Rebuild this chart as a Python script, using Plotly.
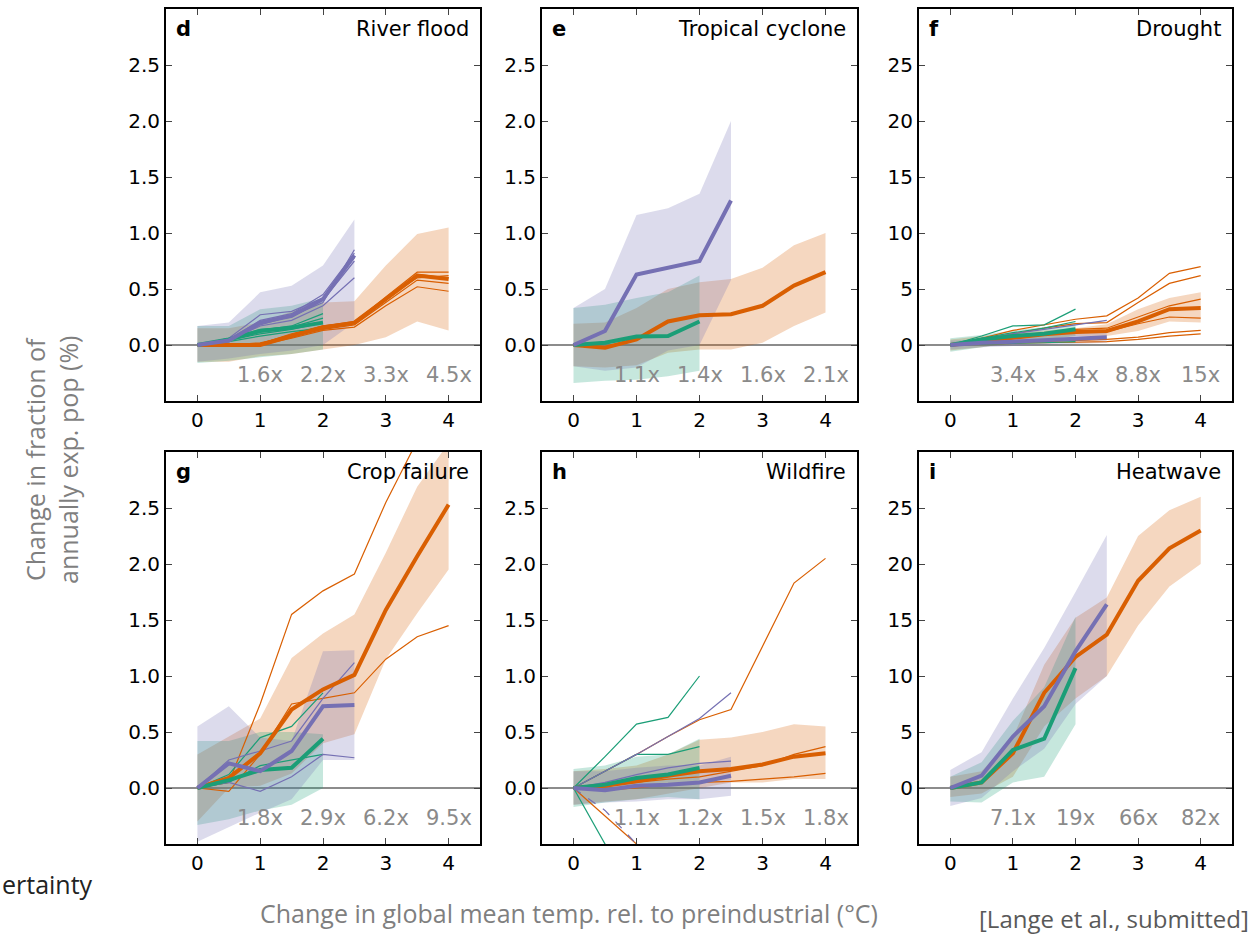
import plotly.graph_objects as go

# ---------------- data ----------------
X = [0, 0.5, 1, 1.5, 2, 2.5, 3, 3.5, 4]
X_PUR = X[:6]
X_GRN = X[:5]

panel_letters = ["d", "e", "f", "g", "h", "i"]
panel_titles = ["River flood", "Tropical cyclone", "Drought", "Crop failure", "Wildfire", "Heatwave"]
multipliers = [
    ["1.6x", "2.2x", "3.3x", "4.5x"],
    ["1.1x", "1.4x", "1.6x", "2.1x"],
    ["3.4x", "5.4x", "8.8x", "15x"],
    ["1.8x", "2.9x", "6.2x", "9.5x"],
    ["1.1x", "1.2x", "1.5x", "1.8x"],
    ["7.1x", "19x", "66x", "82x"],
]
mult_x = [1, 2, 3, 4]
x_ticks = [0, 1, 2, 3, 4]
y_ticks_small = [0, 0.5, 1.0, 1.5, 2.0, 2.5]
y_ticks_big = [0, 5, 10, 15, 20, 25]

# --- d River flood ---
d_org_mean = [0, 0, 0.0, 0.08, 0.155, 0.2, 0.41, 0.62, 0.59]
d_org_hi = [0.15, 0.15, 0.2, 0.3, 0.38, 0.39, 0.71, 0.99, 1.05]
d_org_lo = [-0.15, -0.15, -0.1, -0.08, -0.04, 0.0, 0.07, 0.21, 0.13]
d_org_members = [
    [0, 0, 0.01, 0.09, 0.17, 0.2, 0.43, 0.65, 0.65],
    [0, 0, 0.0, 0.07, 0.15, 0.19, 0.40, 0.63, 0.60],
    [0, 0, 0.02, 0.08, 0.14, 0.18, 0.38, 0.58, 0.55],
    [0, -0.01, 0.0, 0.06, 0.13, 0.16, 0.35, 0.52, 0.48],
    [0, 0, 0.01, 0.10, 0.17, 0.21, 0.42, 0.60, 0.62],
]
d_grn_mean = [0, 0.05, 0.125, 0.155, 0.2]
d_grn_hi = [0.17, 0.17, 0.32, 0.35, 0.42]
d_grn_lo = [-0.16, -0.14, -0.11, -0.08, -0.04]
d_grn_members = [
    [0, 0.05, 0.13, 0.17, 0.28],
    [0, 0.04, 0.10, 0.14, 0.20],
    [0, 0.06, 0.14, 0.16, 0.24],
    [0, 0.03, 0.08, 0.12, 0.15],
]
d_pur_mean = [0, 0.04, 0.2, 0.26, 0.41, 0.8]
d_pur_hi = [0.17, 0.2, 0.47, 0.53, 0.71, 1.12]
d_pur_lo = [-0.15, -0.12, -0.08, -0.05, 0.0, 0.2]
d_pur_members = [
    [0, 0.03, 0.18, 0.26, 0.38, 0.85],
    [0, 0.05, 0.22, 0.28, 0.45, 0.82],
    [0, 0.03, 0.20, 0.25, 0.40, 0.75],
    [0, 0.04, 0.17, 0.22, 0.35, 0.60],
    [0, 0.06, 0.27, 0.30, 0.42, 0.78],
]

# --- e Tropical cyclone ---
e_org_mean = [0, -0.025, 0.05, 0.21, 0.265, 0.275, 0.35, 0.53, 0.65]
e_org_hi = [0.19, 0.2, 0.33, 0.5, 0.56, 0.59, 0.69, 0.89, 1.0]
e_org_lo = [-0.19, -0.2, -0.18, -0.07, -0.04, -0.04, 0.02, 0.17, 0.29]
e_org_members = []
e_grn_mean = [0, 0.02, 0.075, 0.08, 0.21]
e_grn_hi = [0.33, 0.36, 0.42, 0.47, 0.62]
e_grn_lo = [-0.34, -0.32, -0.31, -0.28, -0.23]
e_grn_members = []
e_pur_mean = [0, 0.125, 0.63, 0.69, 0.75, 1.29]
e_pur_hi = [0.33, 0.5, 1.16, 1.22, 1.35, 2.0]
e_pur_lo = [-0.19, -0.23, -0.2, -0.05, 0.0, 0.58]
e_pur_members = []

# --- f Drought ---
f_org_mean = [0, 0.36, 0.65, 0.95, 1.16, 1.25, 2.1, 3.2, 3.3]
f_org_hi = [0.5, 0.8, 1.1, 1.3, 1.5, 1.85, 3.2, 4.2, 4.7]
f_org_lo = [-0.5, -0.2, 0.2, 0.5, 0.8, 0.8, 1.25, 2.1, 2.0]
f_org_members = [
    [0, 0.6, 1.3, 1.8, 2.3, 2.6, 4.2, 6.4, 7.0],
    [0, 0.5, 1.0, 1.5, 1.9, 2.0, 3.8, 5.5, 6.2],
    [0, 0.4, 0.8, 1.1, 1.4, 1.5, 2.5, 3.5, 4.1],
    [0, 0.3, 0.6, 0.9, 1.1, 1.2, 1.9, 2.5, 2.4],
    [0, 0.1, 0.2, 0.3, 0.4, 0.5, 0.7, 1.1, 1.3],
    [0, 0.1, 0.15, 0.2, 0.25, 0.3, 0.5, 0.8, 1.0],
]
f_grn_mean = [0, 0.5, 0.8, 1.0, 1.4]
f_grn_hi = [0.6, 0.9, 1.3, 1.6, 2.0]
f_grn_lo = [-0.6, -0.2, 0.2, 0.4, 0.8]
f_grn_members = [
    [0, 0.8, 1.7, 1.8, 3.2],
    [0, 0.6, 1.1, 1.5, 2.1],
    [0, 0.1, 0.15, 0.2, 0.3],
]
f_pur_mean = [0, 0.2, 0.3, 0.4, 0.55, 0.7]
f_pur_hi = [0.4, 0.5, 0.7, 0.9, 1.1, 1.3]
f_pur_lo = [-0.4, -0.2, -0.1, 0.0, 0.1, 0.2]
f_pur_members = [
    [0, 0.5, 1.0, 1.4, 1.8, 2.2],
]

# --- g Crop failure ---
g_org_mean = [0, 0.09, 0.31, 0.70, 0.88, 1.01, 1.59, 2.07, 2.53]
g_org_hi = [0.3, 0.46, 0.62, 1.16, 1.38, 1.55, 2.1, 2.69, 3.08]
g_org_lo = [-0.3, 0.0, 0.02, 0.13, 0.4, 0.48, 1.15, 1.56, 1.95]
g_org_members = [
    [0, 0.05, 0.75, 1.55, 1.76, 1.91, 2.55, 3.1, 3.5],
    [0, -0.03, 0.3, 0.75, 0.80, 0.85, 1.15, 1.35, 1.45],
]
g_grn_mean = [0, 0.07, 0.16, 0.18, 0.44]
g_grn_hi = [0.42, 0.42, 0.5, 0.5, 0.48]
g_grn_lo = [-0.33, -0.28, -0.2, -0.15, 0.0]
g_grn_members = [
    [0, 0.12, 0.45, 0.55, 0.85],
    [0, 0.05, 0.2, 0.25, 0.3],
]
g_pur_mean = [0, 0.22, 0.15, 0.33, 0.73, 0.74]
g_pur_hi = [0.55, 0.73, 0.45, 0.42, 1.22, 1.23]
g_pur_lo = [-0.48, -0.35, -0.22, -0.1, 0.25, 0.25]
g_pur_members = [
    [0, 0.25, 0.33, 0.42, 0.80, 1.12],
    [0, 0.05, -0.03, 0.1, 0.30, 0.27],
]

# --- h Wildfire ---
h_org_mean = [0, 0.02, 0.06, 0.11, 0.15, 0.17, 0.21, 0.28, 0.31]
h_org_hi = [0.15, 0.17, 0.2, 0.3, 0.43, 0.45, 0.5, 0.57, 0.55]
h_org_lo = [-0.15, -0.12, -0.1, -0.05, 0.0, 0.05, 0.05, 0.08, 0.08]
h_org_members = [
    [0, 0.15, 0.3, 0.46, 0.61, 0.7, 1.27, 1.83, 2.05],
    [0, -0.25, -0.5, -0.75, -1.0, -1.25, -1.5, -1.75, -2.0],
    [0, 0.02, 0.05, 0.08, 0.1, 0.15, 0.2, 0.3, 0.37],
    [0, -0.02, 0.0, 0.03, 0.05, 0.06, 0.08, 0.1, 0.13],
]
h_grn_mean = [0, 0.03, 0.09, 0.12, 0.18]
h_grn_hi = [0.17, 0.2, 0.28, 0.3, 0.44]
h_grn_lo = [-0.17, -0.13, -0.1, -0.08, -0.1]
h_grn_members = [
    [0, 0.28, 0.57, 0.63, 1.0],
    [0, 0.15, 0.3, 0.3, 0.37],
    [0, -0.5, -1.0, -1.5, -2.0],
]
h_pur_mean = [0, -0.02, 0.02, 0.03, 0.05, 0.11]
h_pur_hi = [0.15, 0.15, 0.18, 0.2, 0.2, 0.28]
h_pur_lo = [-0.15, -0.13, -0.12, -0.1, -0.1, -0.07]
h_pur_members = [
    [0, 0.15, 0.3, 0.46, 0.62, 0.85],
    [0, 0.05, 0.12, 0.18, 0.22, 0.24],
]
h_pur_dashed = [0, -0.2, -0.5, -0.8, -1.1, -1.4]

# --- i Heatwave ---
i_org_mean = [0, 0.5, 3.1, 8.5, 11.7, 13.7, 18.5, 21.4, 23.0]
i_org_hi = [1.0, 1.5, 4.5, 11.0, 15.2, 17.0, 22.5, 24.8, 26.0]
i_org_lo = [-0.8, -0.5, 1.0, 5.5, 8.0, 10.0, 14.5, 18.0, 20.0]
i_org_members = []
i_grn_mean = [0, 0.5, 3.4, 4.4, 10.7]
i_grn_hi = [1.0, 2.3, 6.0, 9.0, 15.3]
i_grn_lo = [-1.2, -1.3, 0.5, 1.0, 5.7]
i_grn_members = []
i_pur_mean = [0, 1.1, 4.6, 7.3, 12.2, 16.4]
i_pur_hi = [1.6, 3.2, 8.0, 12.5, 17.5, 22.6]
i_pur_lo = [-1.6, -0.9, 1.5, 3.5, 7.5, 10.0]
i_pur_members = []

# ---------------- styling ----------------
ORANGE = "#d95f02"
GREEN = "#1b9e77"
PURPLE = "#7570b3"
ORANGE_FILL = "rgba(217,95,2,0.25)"
GREEN_FILL = "rgba(27,158,119,0.25)"
PURPLE_FILL = "rgba(117,112,179,0.25)"

W, H = 1251, 934
col_dom = [(166 / W, 480 / W), (542 / W, 857 / W), (919 / W, 1232 / W)]
row_dom = [(1 - 401 / H, 1 - 9 / H), (1 - 844 / H, 1 - 452 / H)]

panels = [
    (d_org_mean, d_org_lo, d_org_hi, d_org_members, d_grn_mean, d_grn_lo, d_grn_hi, d_grn_members, d_pur_mean, d_pur_lo, d_pur_hi, d_pur_members),
    (e_org_mean, e_org_lo, e_org_hi, e_org_members, e_grn_mean, e_grn_lo, e_grn_hi, e_grn_members, e_pur_mean, e_pur_lo, e_pur_hi, e_pur_members),
    (f_org_mean, f_org_lo, f_org_hi, f_org_members, f_grn_mean, f_grn_lo, f_grn_hi, f_grn_members, f_pur_mean, f_pur_lo, f_pur_hi, f_pur_members),
    (g_org_mean, g_org_lo, g_org_hi, g_org_members, g_grn_mean, g_grn_lo, g_grn_hi, g_grn_members, g_pur_mean, g_pur_lo, g_pur_hi, g_pur_members),
    (h_org_mean, h_org_lo, h_org_hi, h_org_members, h_grn_mean, h_grn_lo, h_grn_hi, h_grn_members, h_pur_mean, h_pur_lo, h_pur_hi, h_pur_members),
    (i_org_mean, i_org_lo, i_org_hi, i_org_members, i_grn_mean, i_grn_lo, i_grn_hi, i_grn_members, i_pur_mean, i_pur_lo, i_pur_hi, i_pur_members),
]

fig = go.Figure()
TICKFONT = dict(family="DejaVu Sans", size=20, color="black")


def band(xs, lo, hi, fill, xa, ya):
    fig.add_trace(go.Scatter(x=xs, y=lo, mode="lines", line=dict(width=0), hoverinfo="skip",
                             showlegend=False, xaxis=xa, yaxis=ya))
    fig.add_trace(go.Scatter(x=xs, y=hi, mode="lines", line=dict(width=0), fill="tonexty",
                             fillcolor=fill, hoverinfo="skip", showlegend=False, xaxis=xa, yaxis=ya))


def line(xs, ys, color, width, xa, ya, dash="solid"):
    fig.add_trace(go.Scatter(x=xs, y=ys, mode="lines", line=dict(color=color, width=width, dash=dash),
                             showlegend=False, xaxis=xa, yaxis=ya))


for k, p in enumerate(panels):
    (om, ol, oh, omem, gm, gl, gh, gmem, pm, pl, ph, pmem) = p
    r, c = divmod(k, 3)
    n = k + 1
    xa = "x" if n == 1 else f"x{n}"
    ya = "y" if n == 1 else f"y{n}"
    big = k in (2, 5)

    band(X, ol, oh, ORANGE_FILL, xa, ya)
    band(X_GRN, gl, gh, GREEN_FILL, xa, ya)
    band(X_PUR, pl, ph, PURPLE_FILL, xa, ya)

    for m in omem:
        line(X, m, ORANGE, 1.2, xa, ya)
    for m in gmem:
        line(X_GRN, m, GREEN, 1.2, xa, ya)
    for m in pmem:
        line(X_PUR, m, PURPLE, 1.2, xa, ya)
    if k == 4:
        line(X_PUR, h_pur_dashed, PURPLE, 1.2, xa, ya, dash="dash")

    line(X, om, ORANGE, 4, xa, ya)
    line(X_GRN, gm, GREEN, 4, xa, ya)
    line(X_PUR, pm, PURPLE, 4, xa, ya)

    yt = y_ticks_big if big else y_ticks_small
    ytext = [str(v) for v in yt] if big else [f"{v:.1f}" for v in yt]
    xkey = "xaxis" if n == 1 else f"xaxis{n}"
    ykey = "yaxis" if n == 1 else f"yaxis{n}"
    fig.update_layout(**{
        xkey: dict(domain=list(col_dom[c]), anchor=ya, range=[-0.5, 4.5], tickvals=x_ticks,
                   ticks="inside", ticklen=6, tickwidth=1.2, tickcolor="#444", showline=True,
                   linecolor="black", linewidth=2, mirror="ticks", showgrid=False, zeroline=False,
                   tickfont=TICKFONT, fixedrange=True),
        ykey: dict(domain=list(row_dom[r]), anchor=xa, range=[-5, 30] if big else [-0.5, 3.0],
                   tickvals=yt, ticktext=ytext, ticks="inside", ticklen=6, tickwidth=1.2,
                   tickcolor="#444", showline=True, linecolor="black", linewidth=2, mirror="ticks",
                   showgrid=False, zeroline=True, zerolinecolor="#8c8c8c", zerolinewidth=2,
                   tickfont=TICKFONT, fixedrange=True),
    })

    xd = xa + " domain"
    yd = ya + " domain"
    fig.add_annotation(text=f"<b>{panel_letters[k]}</b>", xref=xd, yref=yd, x=0.025, y=0.985,
                       xanchor="left", yanchor="top", showarrow=False,
                       font=dict(family="DejaVu Sans", size=21, color="black"))
    fig.add_annotation(text=panel_titles[k], xref=xd, yref=yd, x=0.97, y=0.985,
                       xanchor="right", yanchor="top", showarrow=False,
                       font=dict(family="DejaVu Sans", size=21, color="black"))
    for mx, mt in zip(mult_x, multipliers[k]):
        fig.add_annotation(text=mt, xref=xa, yref=yd, x=mx, y=0.066, xanchor="center",
                           yanchor="middle", showarrow=False,
                           font=dict(family="DejaVu Sans", size=21, color="#8a8a8a"))

# outer labels
OUT = "Open Sans"
fig.add_annotation(text="Change in fraction of<br>annually exp. pop (%)", xref="paper", yref="paper",
                   x=52 / W, y=1 - 460 / H, textangle=-90, showarrow=False, xanchor="center",
                   yanchor="middle", font=dict(family=OUT, size=25, color="#7f7f7f"))
fig.add_annotation(text="Change in global mean temp. rel. to preindustrial (°C)", xref="paper",
                   yref="paper", x=569 / W, y=1 - 913 / H, showarrow=False, xanchor="center",
                   yanchor="middle", font=dict(family=OUT, size=25, color="#7f7f7f"))
fig.add_annotation(text="[Lange et al., submitted]", xref="paper", yref="paper", x=1.0,
                   y=1 - 918 / H, showarrow=False, xanchor="right", yanchor="middle",
                   font=dict(family=OUT, size=24, color="#595959"))
fig.add_annotation(text="ertainty", xref="paper", yref="paper", x=0, y=1 - 884 / H,
                   showarrow=False, xanchor="left", yanchor="middle",
                   font=dict(family=OUT, size=25, color="#222222"))

fig.update_layout(width=W, height=H, margin=dict(l=0, r=0, t=0, b=0), paper_bgcolor="white",
                  plot_bgcolor="white", showlegend=False)

fig.write_html("out.html", config={"displayModeBar": False},
               post_script="document.body.style.margin='0';")
